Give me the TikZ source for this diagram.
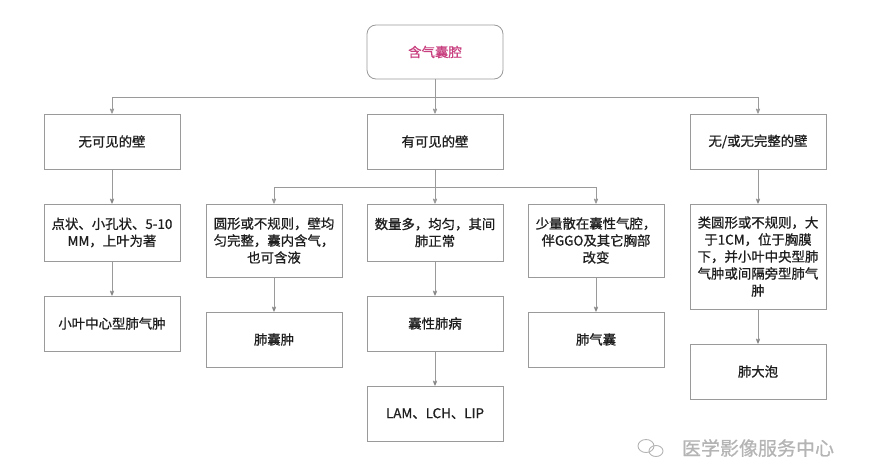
\documentclass[tikz,border=0pt]{standalone}
\usepackage{fontspec}
\setmainfont{Noto Sans CJK SC}[FakeBold=0.8]
\usetikzlibrary{arrows,positioning}
\definecolor{linegray}{HTML}{9A9A9A}
\definecolor{textgray}{HTML}{1E1E1E}
\definecolor{rootpink}{HTML}{C8407F}
\definecolor{markgray}{HTML}{B4B4B4}

\begin{document}
\begin{tikzpicture}[x=1pt,y=-1pt,->,>=stealth',semithick,
                    every node/.style={font=\fontsize{13.4}{17}\selectfont,text=textgray,align=center},
                    box/.style={draw=linegray,line width=0.8pt,minimum width=136pt,inner sep=0pt},
                    link/.style={draw=linegray,line width=0.8pt}]
	\useasboundingbox (0,0) rectangle (870,471);
	% top
	\node[box,rounded corners=9pt,minimum height=54pt,text=rootpink]	(root)		at (435,52)	{含气囊腔};
	% first row
	\node[box,minimum height=55pt]	(nowall)	at (112,141.5)	{无可见的壁};
	\node[box,minimum height=55pt]	(wall)		at (435,141.5)	{有可见的壁};
	\node[box,minimum height=55pt]	(partwall)	at (758,141.5)	{无/或无完整的壁};
	% second row
	\node[box,minimum height=57pt]	(dots)		at (112,232.5)	{点状、小孔状、5-10\\MM，上叶为著};
	\node[box,minimum height=73pt]	(round)		at (274,240.5)	{圆形或不规则，壁均\\匀完整，囊内含气，\\也可含液};
	\node[box,minimum height=57pt]	(many)		at (435,232.5)	{数量多，均匀，其间\\肺正常};
	\node[box,minimum height=73pt]	(few)		at (596,240.5)	{少量散在囊性气腔，\\伴GGO及其它胸部\\改变};
	\node[box,minimum height=105pt]	(large)		at (758,256.5)	{类圆形或不规则，大\\于1CM，位于胸膜\\下，并小叶中央型肺\\气肿或间隔旁型肺气\\肿};
	% third row
	\node[box,minimum height=55pt]	(centri)	at (112,323.5)	{小叶中心型肺气肿};
	\node[box,minimum height=55pt]	(cyst)		at (274,339.5)	{肺囊肿};
	\node[box,minimum height=55pt]	(cystic)	at (435,323.5)	{囊性肺病};
	\node[box,minimum height=55pt]	(pneumato)	at (596,339.5)	{肺气囊};
	\node[box,minimum height=55pt]	(bulla)		at (758,371.5)	{肺大泡};
	\node[box,minimum height=55pt]	(lam)		at (435,413.5)	{LAM、LCH、LIP};
	% hubs
	\coordinate (hubtop) at (435,97);
	\coordinate (hubmid) at (435,187);
	\draw[link,-] (root) -- (hubtop);
	\draw[link,-] (wall) -- (hubmid);
	\draw[link] (hubtop) -| (nowall);
	\draw[link] (hubtop) -- (wall);
	\draw[link] (hubtop) -| (partwall);
	\draw[link] (hubmid) -| (round);
	\draw[link] (hubmid) -- (many);
	\draw[link] (hubmid) -| (few);
	\path[link]	(nowall)	edge	(dots)
			(dots)	edge	(centri)
			(round)	edge	(cyst)
			(many)	edge	(cystic)
			(cystic)	edge	(lam)
			(few)	edge	(pneumato)
			(partwall)	edge	(large)
			(large)	edge	(bulla);
	% watermark
	\draw[-,markgray,line width=0.9pt] (646,446) ellipse (8pt and 6.5pt);
	\draw[-,markgray,line width=0.9pt] (656,451) ellipse (7pt and 5.5pt);
	\node[text=markgray,font=\fontsize{19}{20}\selectfont] (mark) at (758,448) {医学影像服务中心};
\end{tikzpicture}
\end{document}
